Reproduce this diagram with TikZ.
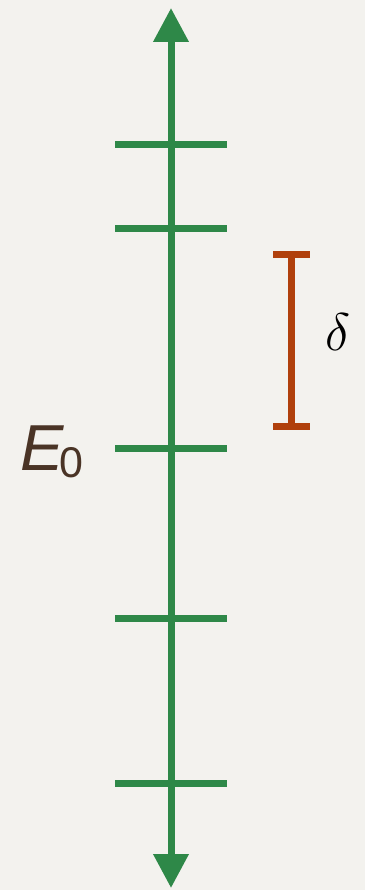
\documentclass[tikz,border=0pt]{standalone}
\usepackage{fontspec}
\setsansfont{Liberation Sans}
\usetikzlibrary{arrows.meta}
\definecolor{paper}{HTML}{F3F2EE}
\definecolor{axisgreen}{HTML}{2E8848}
\definecolor{deltared}{HTML}{B0400C}
\definecolor{labelbrown}{HTML}{4A3426}
\tikzset{
  axisline/.style={draw=axisgreen, line width=7pt, {Triangle[width=34pt,length=34pt]}-{Triangle[width=34pt,length=34pt]}},
  tickline/.style={draw=axisgreen, line width=7pt},
  deltaline/.style={draw=deltared, line width=7pt},
}
\begin{document}
\begin{tikzpicture}[x=1pt,y=-1pt]
  \fill[paper] (0,0) rectangle (365,890);
  \useasboundingbox (0,0) rectangle (365,890);
  % axis
  \coordinate (top) at (171,8);
  \coordinate (bot) at (171,888);
  \draw[axisline] (bot) -- (top);
  % ticks
  \foreach \n/\y in {t1/145,t2/229,t3/448,t4/618,t5/783}{
    \coordinate (\n l) at (115,\y);
    \coordinate (\n r) at (227,\y);
    \draw[tickline] (\n l) -- (\n r);
  }
  % delta bar
  \coordinate (dtop) at (291,255);
  \coordinate (dbot) at (291,426);
  \coordinate (dtl) at (273,255);
  \coordinate (dtr) at (310,255);
  \coordinate (dbl) at (273,426);
  \coordinate (dbr) at (310,426);
  \draw[deltaline] (dtop) -- (dbot);
  \draw[deltaline] (dtl) -- (dtr);
  \draw[deltaline] (dbl) -- (dbr);
  \node[anchor=base west, inner sep=0pt, font=\Huge, scale=2.13] (delta) at (325,350) {$\delta$};
  % E0 label
  \node[anchor=base west, inner sep=0pt, text=labelbrown, font=\sffamily\fontsize{65}{66}\selectfont] (E0) at (20,470) {\textit{E}\kern-5pt\raisebox{-7pt}{\fontsize{43}{44}\selectfont 0}};
\end{tikzpicture}
\end{document}
